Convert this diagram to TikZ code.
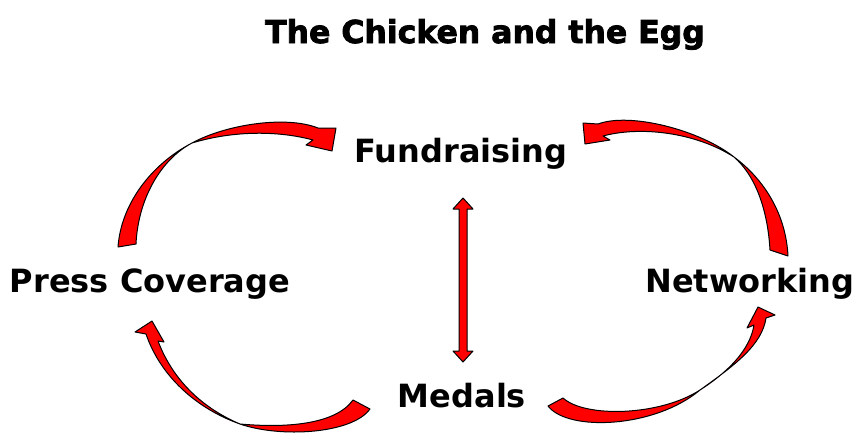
\documentclass[tikz,border=0pt]{standalone}
\usepackage{fontspec}
\newfontfamily\labelfont{DejaVu Sans Bold}
\newfontfamily\titlefont{DejaVu Sans Bold}[FakeBold=2.5]
\tikzset{
  lbl/.style={anchor=base, inner sep=0pt, font=\labelfont\fontsize{32}{38}\selectfont},
  ttl/.style={anchor=base, inner sep=0pt, font=\titlefont\fontsize{31.5}{38}\selectfont},
  ribbon/.style={fill=red, draw=black, line width=1pt, line join=round}
}
\begin{document}
\begin{tikzpicture}[x=1pt, y=-1pt]
\useasboundingbox (0,0) rectangle (857,432);
\fill[white] (0,0) rectangle (857,432);

\node[ttl] (title) at (485,43) {The Chicken and the Egg};
\node[lbl] (fund) at (461,162) {Fundraising};
\node[lbl] (press) at (150,292) {Press Coverage};
\node[lbl] (net) at (750,292) {Networking};
\node[lbl] (med) at (462,407) {Medals};

% top-left curved arrow: Press Coverage -> Fundraising
\path[ribbon] (118,247) .. controls (121,205) and (150,165) .. (192,143)
  .. controls (225,125) and (285,115) .. (318,128)
  -- (336,128) -- (332,151) -- (306,145) -- (313,140)
  .. controls (280,131) and (235,130) .. (192,143)
  .. controls (160,160) and (138,200) .. (136,244) -- cycle;

% top-right curved arrow: Networking -> Fundraising
\path[ribbon] (788,256) .. controls (786,215) and (765,180) .. (734,157)
  .. controls (700,130) and (630,112) .. (598,124)
  -- (583,123) -- (585,144) -- (610,140) -- (603,136)
  .. controls (640,126) and (695,132) .. (734,157)
  .. controls (758,178) and (768,215) .. (770,250) -- cycle;

% bottom-left curved arrow: Medals -> Press Coverage
\path[ribbon] (370,409) .. controls (352,434) and (280,438) .. (240,424)
  .. controls (195,408) and (160,375) .. (146,334)
  -- (135,332) -- (152,321) -- (164,342) -- (158,341)
  .. controls (172,378) and (200,407) .. (240,424)
  .. controls (285,428) and (335,425) .. (353,400) -- cycle;

% bottom-right curved arrow: Medals -> Networking
\path[ribbon] (548,406) .. controls (568,432) and (655,428) .. (700,390)
  .. controls (735,365) and (762,345) .. (766,318)
  -- (775,315) -- (758,307) -- (747,328) -- (754,325)
  .. controls (750,350) and (728,372) .. (700,390)
  .. controls (660,416) and (585,418) .. (563,398) -- cycle;

% vertical double arrow between Fundraising and Medals
\coordinate (vt) at (463,198);
\path[ribbon] (vt) -- ++(10,11) -- ++(-6,0) -- ++(0,142) -- ++(6,0)
  -- ++(-10,11) -- ++(-10,-11) -- ++(6,0) -- ++(0,-142) -- ++(-6,0) -- cycle;
\end{tikzpicture}
\end{document}
